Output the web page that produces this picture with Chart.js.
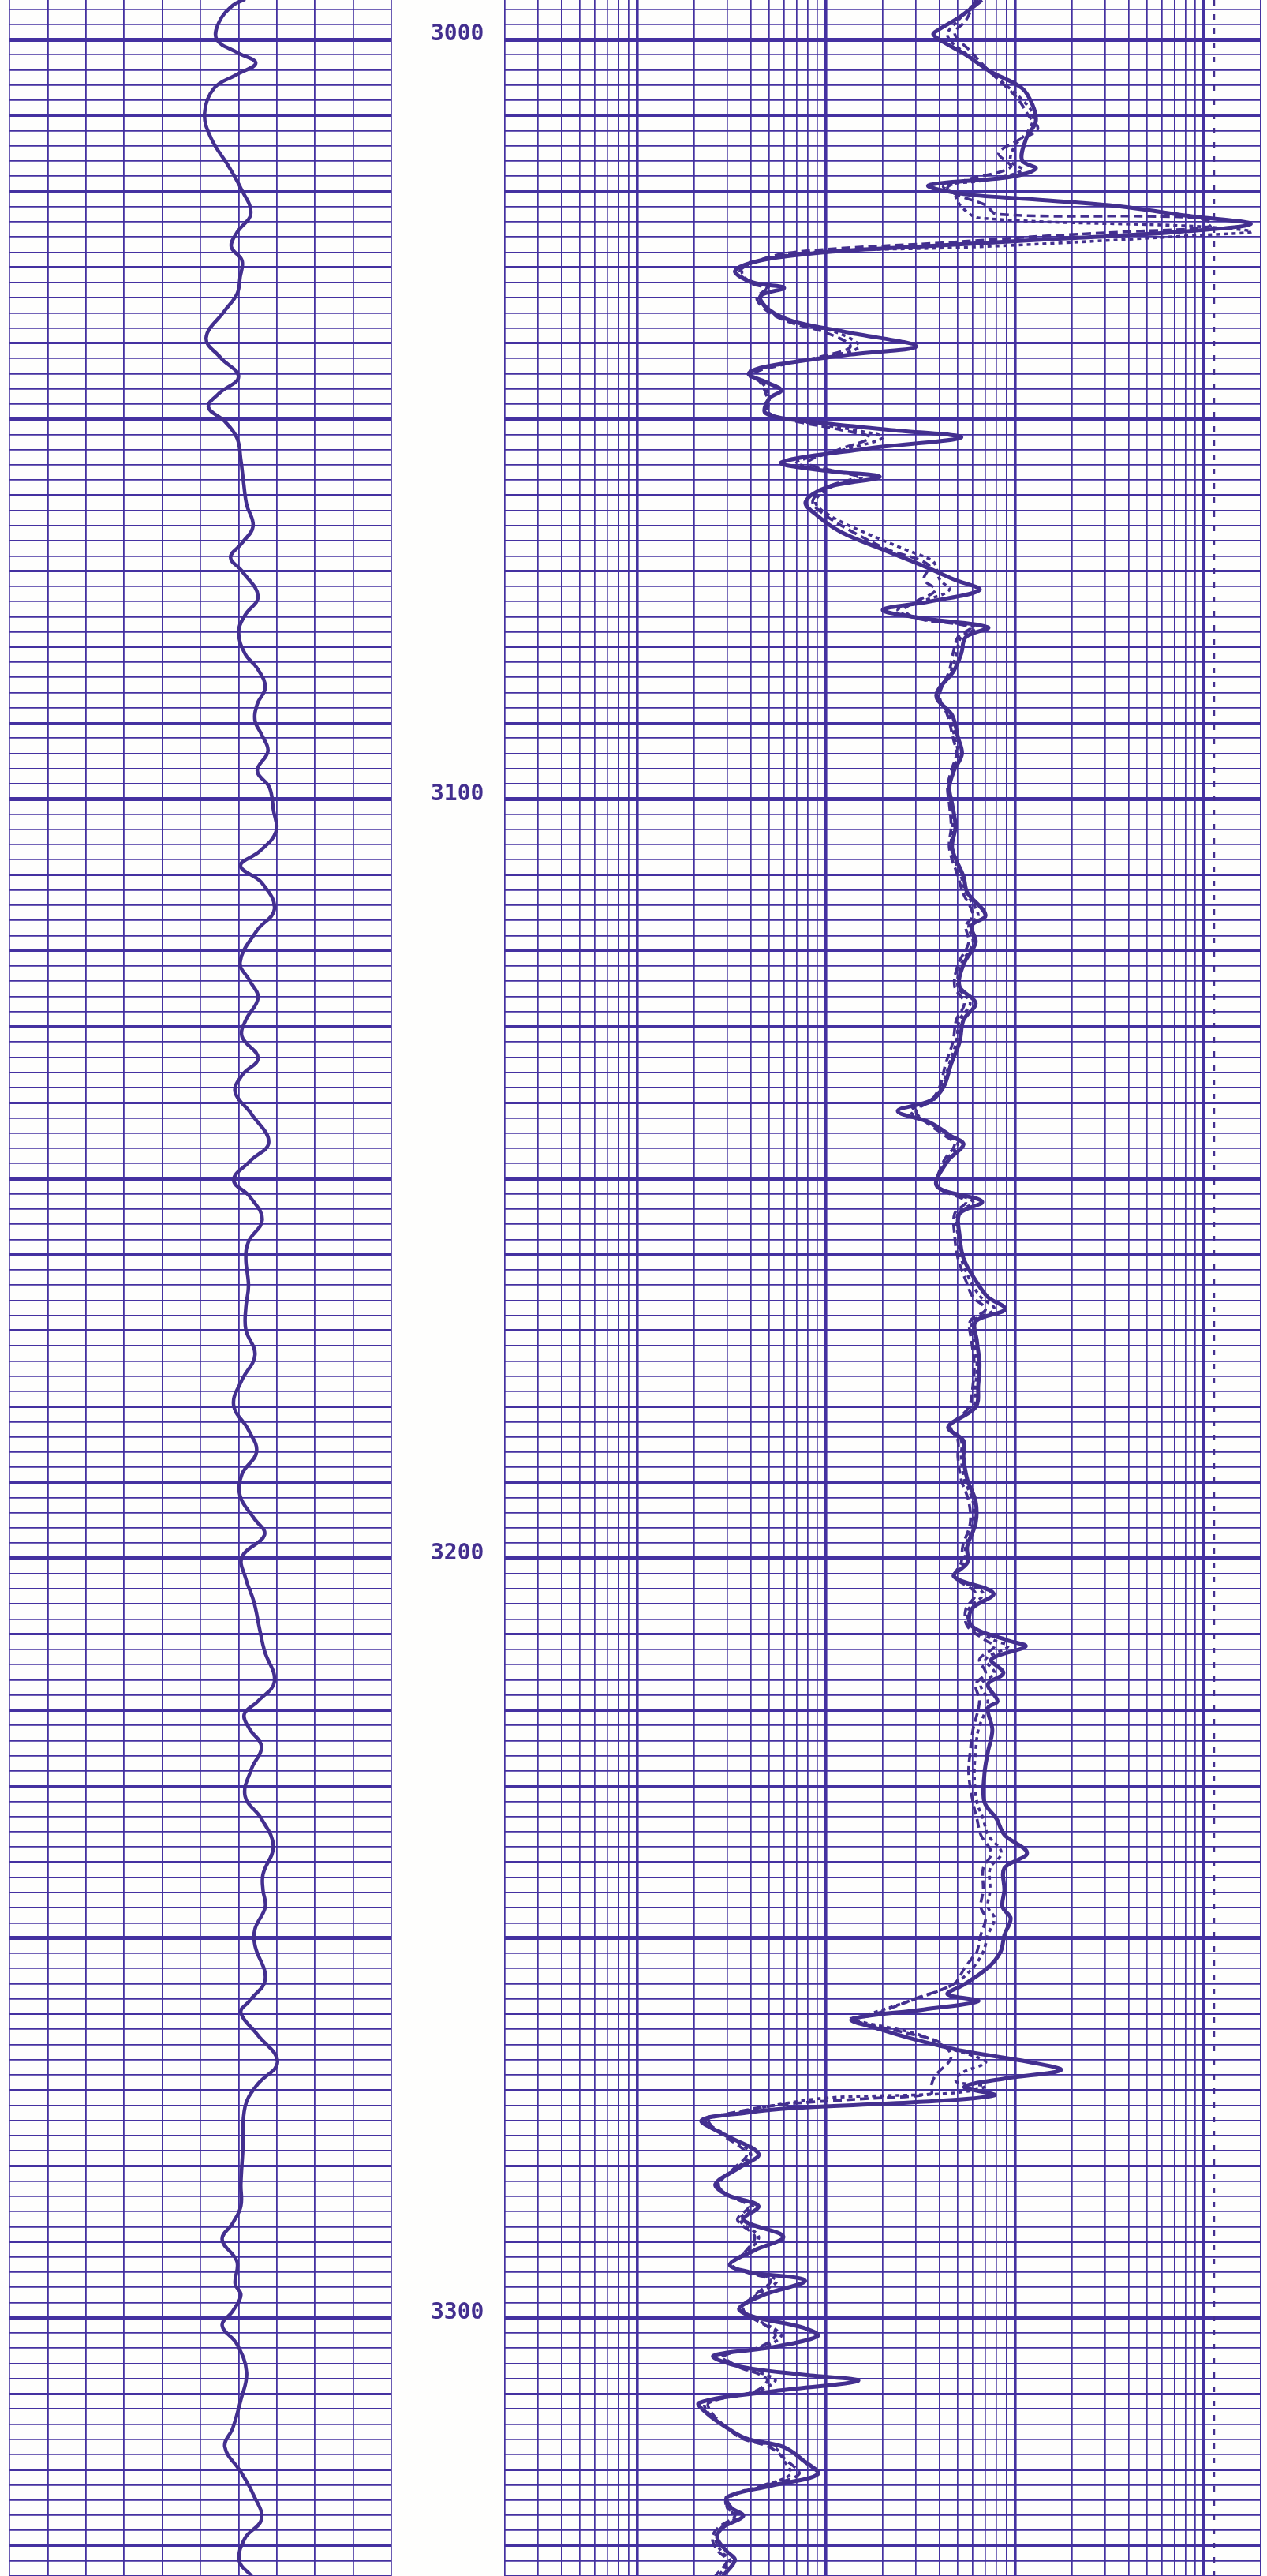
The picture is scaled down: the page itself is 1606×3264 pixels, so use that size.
<!DOCTYPE html>
<html>
<head>
<meta charset="utf-8">
<title>Log 3000-3334</title>
<script src="https://cdn.jsdelivr.net/npm/chart.js@4.4.1/dist/chart.umd.min.js"></script>
<style>
  html, body { margin: 0; padding: 0; background: #ffffff; }
  #page { position: relative; width: 1606px; height: 3264px; overflow: hidden; background: #fefefd; }
  #page canvas { position: absolute; top: 0; }
  #leftTrack { left: 6px; }
  #rightTrack { left: 634px; }
</style>
</head>
<body>
<div id="page">
  <canvas id="leftTrack" width="648" height="3264"></canvas>
  <canvas id="rightTrack" width="972" height="3264"></canvas>
</div>
<script>
// depth window shown on the sheet (ft)
const depthTop = 2994.8;
const depthBottom = 3334.0;
const depthLabels = [3000, 3100, 3200, 3300];

// grid lines
const depthLines = [];
for (let d = 2996; d <= 3334; d += 2) depthLines.push(d);
const leftDivisions = [0, 1, 2, 3, 4, 5, 6, 7, 8, 9, 10];
const logLines = [0.2, 0.3, 0.4, 0.5, 0.6, 0.7, 0.8, 0.9,
  1, 2, 3, 4, 5, 6, 7, 8, 9,
  10, 20, 30, 40, 50, 60, 70, 80, 90,
  100, 200, 300, 400, 500, 600, 700, 800, 900,
  1000, 2000];
const decades = [1, 10, 100, 1000];

// track 1 curve (linear, 0-10 divisions)
const leftDepths = [2994.7, 2995.5, 2997.7, 3000.0, 3001.7, 3003.1, 3004.6, 3006.4, 3009.7, 3013.0,
  3016.7, 3019.6, 3022.9, 3025.4, 3027.3, 3029.1, 3031.3, 3033.5, 3035.7, 3039.3,
  3041.9, 3044.4, 3046.6, 3048.4, 3050.3, 3052.5, 3055.4, 3058.3, 3061.2, 3064.1,
  3066.3, 3068.2, 3070.0, 3073.3, 3075.8, 3078.0, 3080.9, 3082.8, 3085.3, 3087.5,
  3089.7, 3091.5, 3093.7, 3096.3, 3098.5, 3101.4, 3104.3, 3106.9, 3108.8, 3111.0,
  3114.5, 3117.4, 3121.5, 3124.0, 3126.2, 3129.1, 3131.3, 3134.1, 3136.4, 3138.6,
  3141.5, 3145.2, 3147.7, 3150.2, 3152.4, 3155.4, 3158.3, 3160.5, 3164.1, 3167.0,
  3169.9, 3173.2, 3176.5, 3179.8, 3183.1, 3186.0, 3188.9, 3191.8, 3194.7, 3196.9,
  3199.8, 3202.7, 3205.7, 3209.3, 3212.2, 3216.2, 3218.8, 3220.5, 3222.4, 3224.8,
  3227.7, 3231.3, 3234.3, 3237.9, 3241.6, 3243.7, 3245.9, 3248.8, 3251.0, 3255.4,
  3258.3, 3259.8, 3262.7, 3266.3, 3269.3, 3272.2, 3278.0, 3282.4, 3285.3, 3287.5,
  3289.7, 3292.6, 3295.5, 3297.0, 3299.1, 3301.0, 3303.5, 3307.2, 3310.8, 3314.5,
  3317.0, 3320.3, 3323.2, 3326.5, 3329.0, 3332.0, 3334.0];
const leftValues = [6.17, 5.85, 5.49, 5.43, 5.96, 6.45, 5.96, 5.36, 5.11, 5.28,
  5.74, 6.06, 6.32, 5.96, 5.81, 6.09, 6.04, 5.96, 5.64, 5.15,
  5.53, 6.00, 5.49, 5.21, 5.64, 5.96, 6.06, 6.13, 6.21, 6.38,
  6.09, 5.79, 6.09, 6.51, 6.17, 6.00, 6.17, 6.49, 6.70, 6.49,
  6.43, 6.60, 6.77, 6.49, 6.81, 6.91, 6.98, 6.55, 6.05, 6.60,
  6.94, 6.47, 6.04, 6.30, 6.51, 6.19, 6.09, 6.51, 6.09, 5.91,
  6.34, 6.79, 6.30, 5.87, 6.30, 6.62, 6.26, 6.19, 6.26, 6.19,
  6.19, 6.43, 6.09, 5.87, 6.26, 6.47, 6.09, 6.04, 6.40, 6.68,
  6.09, 6.19, 6.40, 6.55, 6.68, 6.94, 6.51, 6.15, 6.28, 6.60,
  6.34, 6.17, 6.60, 6.91, 6.64, 6.64, 6.70, 6.43, 6.43, 6.70,
  6.28, 6.06, 6.49, 7.02, 6.49, 6.17, 6.11, 6.06, 6.06, 5.85,
  5.57, 5.96, 5.91, 6.06, 5.85, 5.57, 5.96, 6.21, 6.06, 5.85,
  5.64, 6.06, 6.38, 6.60, 6.17, 6.02, 6.34];

// track 2, solid curve (log 0.2-2000)
const deepDepths = [2994.8, 2996.9, 2998.8, 2999.3, 3000.2, 3002.0, 3004.2, 3006.4, 3008.6, 3010.8,
  3013.0, 3015.9, 3017.0, 3018.1, 3019.2, 3020.3, 3021.0, 3021.9, 3023.2, 3024.3,
  3025.4, 3026.3, 3027.2, 3028.0, 3029.1, 3030.5, 3032.0, 3032.7, 3033.8, 3035.6,
  3037.1, 3038.6, 3040.4, 3041.5, 3043.0, 3044.0, 3045.1, 3046.2, 3047.3, 3049.2,
  3050.3, 3051.4, 3052.4, 3053.9, 3055.7, 3056.8, 3057.6, 3059.0, 3060.9, 3062.7,
  3064.9, 3067.1, 3069.2, 3071.1, 3072.5, 3074.0, 3075.1, 3076.2, 3077.4, 3078.7,
  3080.9, 3083.1, 3086.4, 3089.0, 3091.9, 3094.1, 3096.3, 3098.5, 3100.7, 3103.6,
  3106.5, 3110.2, 3112.3, 3115.3, 3116.7, 3118.9, 3121.8, 3124.7, 3126.9, 3129.1,
  3132.0, 3134.9, 3137.9, 3139.7, 3141.1, 3142.6, 3144.4, 3145.5, 3147.7, 3151.0,
  3153.0, 3154.6, 3157.5, 3160.5, 3163.4, 3165.6, 3167.2, 3168.8, 3171.4, 3174.3,
  3177.2, 3180.1, 3182.7, 3184.5, 3186.7, 3189.6, 3192.5, 3195.4, 3198.4, 3200.6,
  3202.4, 3204.6, 3206.7, 3208.9, 3210.8, 3211.6, 3213.3, 3215.1, 3216.6, 3218.8,
  3219.7, 3222.6, 3225.5, 3228.4, 3232.1, 3234.3, 3236.4, 3238.8, 3240.8, 3243.7,
  3245.9, 3247.4, 3249.6, 3251.8, 3253.9, 3256.1, 3257.4, 3258.3, 3259.4, 3260.7,
  3262.0, 3263.4, 3264.9, 3266.3, 3267.4, 3268.5, 3269.6, 3270.7, 3271.6, 3272.4,
  3273.0, 3274.0, 3275.8, 3278.4, 3280.2, 3282.4, 3283.8, 3285.3, 3287.1, 3289.3,
  3291.1, 3293.0, 3294.0, 3295.1, 3297.0, 3298.8, 3299.9, 3301.3, 3302.4, 3303.9,
  3305.0, 3306.4, 3307.5, 3308.3, 3309.7, 3311.2, 3312.6, 3314.5, 3315.9, 3317.0,
  3318.8, 3320.6, 3322.1, 3323.6, 3325.0, 3326.1, 3327.6, 3329.0, 3330.8, 3331.9,
  3334.0];
const deepValues = [67, 52, 39, 37, 41, 55, 74, 109, 124, 129,
  115, 109, 129, 94, 35, 52, 115, 336, 811, 1770,
  667, 154, 35, 10, 4.5, 3.3, 4.1, 6.0, 4.5, 5.0,
  6.7, 13.3, 30, 13.3, 5.0, 3.9, 4.8, 5.8, 5.0, 4.8,
  8.2, 21.8, 52, 16.2, 5.8, 10, 19.3, 10, 7.8, 9.0,
  12.1, 19.7, 32, 47.6, 65, 35.5, 20, 32, 72, 55,
  52, 47.6, 38.4, 46.6, 50, 52.5, 47.6, 45, 46.6, 48.5,
  46.6, 53.5, 56, 70, 59, 62, 53.5, 51, 62, 53.5,
  51, 46, 42, 36, 24, 35.5, 46, 53.5, 44, 38.7,
  67, 51, 51, 53.5, 62, 72, 89, 62, 63, 65,
  64, 62, 44.4, 53.5, 53.5, 56, 62, 62, 56, 56,
  47.6, 77, 59, 59, 91.5, 114, 75, 87, 72, 81,
  72, 76, 72, 69, 69, 80, 88, 116, 88, 88,
  86, 95, 88, 84, 72, 54, 44, 64, 33, 13.7,
  19.3, 30, 54, 118, 175, 88, 54, 78, 30, 6.5,
  3.8, 2.2, 2.85, 4.4, 3.5, 2.6, 3.0, 4.4, 3.65, 5.95,
  4.2, 3.1, 4.0, 7.75, 4.66, 3.47, 4.2, 7.6, 9.06, 5.14,
  2.54, 3.47, 7.6, 14.8, 5.14, 2.13, 2.35, 3.0, 3.8, 5.95,
  7.6, 9.06, 5.14, 3.0, 3.15, 3.65, 2.85, 2.66, 3.0, 3.3,
  2.85];

// track 2, long-dash curve
const mediumDepths = [2994.8, 2997.5, 2999.2, 3001.5, 3004.0, 3006.0, 3008.0, 3010.0, 3011.8, 3013.5,
  3015.0, 3016.8, 3018.5, 3019.5, 3020.5, 3021.8, 3023.0, 3023.3, 3023.6, 3024.3,
  3024.8, 3025.3, 3025.9, 3026.8, 3027.5, 3028.2, 3029.2, 3030.5, 3032.0, 3032.8,
  3034.0, 3035.6, 3037.1, 3038.6, 3040.4, 3041.6, 3043.0, 3044.0, 3045.5, 3047.3,
  3049.2, 3050.3, 3051.4, 3052.4, 3053.9, 3055.7, 3056.8, 3057.6, 3059.0, 3060.9,
  3062.7, 3064.9, 3067.1, 3069.2, 3071.1, 3072.5, 3074.0, 3075.1, 3076.2, 3077.4,
  3078.7, 3080.9, 3083.1, 3086.4, 3089.0, 3091.9, 3094.1, 3096.3, 3098.5, 3100.7,
  3103.6, 3106.5, 3110.2, 3112.3, 3115.3, 3116.7, 3118.9, 3121.8, 3124.7, 3126.9,
  3129.1, 3132.0, 3134.9, 3137.9, 3139.7, 3141.1, 3142.6, 3144.4, 3145.5, 3147.7,
  3151.0, 3153.0, 3154.6, 3157.5, 3160.5, 3163.4, 3165.6, 3167.2, 3168.8, 3171.4,
  3174.3, 3177.2, 3180.1, 3182.7, 3184.5, 3186.7, 3189.6, 3192.5, 3195.4, 3198.4,
  3200.6, 3202.4, 3204.6, 3206.7, 3208.9, 3210.8, 3211.6, 3213.3, 3215.1, 3216.6,
  3218.8, 3222.6, 3225.5, 3228.4, 3232.1, 3234.3, 3236.4, 3238.8, 3240.8, 3243.7,
  3245.9, 3247.4, 3249.6, 3251.8, 3252.5, 3254.0, 3256.0, 3258.0, 3260.2, 3260.7,
  3262.6, 3263.8, 3265.7, 3268.1, 3269.5, 3270.5, 3271.2, 3271.9, 3273.0, 3274.0,
  3275.8, 3278.4, 3280.2, 3282.4, 3283.8, 3285.3, 3287.1, 3289.3, 3291.1, 3293.0,
  3294.0, 3295.1, 3297.0, 3298.8, 3299.9, 3301.3, 3302.4, 3303.9, 3305.0, 3306.4,
  3307.5, 3308.3, 3309.7, 3311.2, 3312.6, 3314.5, 3315.9, 3317.0, 3318.8, 3320.6,
  3322.1, 3323.6, 3325.0, 3326.1, 3327.6, 3329.0, 3330.8, 3331.9, 3334.0];
const mediumValues = [62, 55, 48, 58, 72, 88, 105, 118, 132, 100,
  82, 95, 55, 44, 50, 70, 80, 600, 980, 1100,
  1000, 400, 140, 40, 12, 6, 4.3, 3.5, 3.9, 4.8,
  4.3, 4.8, 6.2, 10, 13.5, 10, 5.5, 4.2, 4.6, 4.9,
  5.0, 7, 12, 17, 12, 8, 11, 14.5, 10, 8.5,
  10, 14, 21, 35, 33, 38, 30, 26, 30, 58,
  50, 47, 45, 40, 44, 47, 49, 46, 44, 45,
  46, 45, 50, 53, 60, 55, 57, 50, 48, 54,
  49, 47, 43, 40, 36, 30, 34, 43, 48, 42,
  39, 55, 48, 48, 50, 55, 60, 70, 58, 59,
  61, 60, 57, 46, 50, 50, 52, 57, 58, 53,
  52, 48, 62, 55, 56, 70, 78, 65, 70, 62,
  65, 60, 58, 57, 60, 63, 66, 75, 68, 68,
  66, 70, 66, 63, 60, 54, 47.7, 29.5, 17.2, 13.5,
  27.7, 40.5, 46, 38, 36, 36, 15, 6, 3.2, 2.4,
  2.8, 3.8, 3.3, 2.7, 3.0, 3.9, 3.4, 4.2, 3.8, 3.2,
  3.8, 5.1, 4.2, 3.65, 4.0, 5.0, 5.4, 4.4, 2.9, 3.4,
  4.5, 4.9, 4.2, 2.4, 2.5, 3.0, 3.6, 5.0, 6.2, 7.2,
  4.8, 3.1, 3.0, 3.3, 2.7, 2.5, 2.7, 3.0, 2.6];

// track 2, short-dash curve
const shallowDepths = [2994.8, 2997.5, 2999.5, 3002.0, 3005.0, 3008.0, 3010.0, 3012.0, 3014.0, 3016.0,
  3017.2, 3018.5, 3019.3, 3020.5, 3022.0, 3023.5, 3024.6, 3025.3, 3025.8, 3026.8,
  3027.4, 3027.9, 3029.0, 3030.5, 3032.0, 3032.8, 3034.0, 3035.6, 3037.1, 3038.6,
  3040.4, 3041.6, 3043.0, 3044.0, 3045.5, 3047.3, 3049.2, 3050.3, 3051.4, 3052.4,
  3053.9, 3055.7, 3056.8, 3057.6, 3059.0, 3060.9, 3062.7, 3064.9, 3067.1, 3068.5,
  3069.2, 3071.1, 3072.5, 3074.0, 3075.1, 3076.2, 3077.4, 3078.7, 3080.9, 3083.1,
  3086.4, 3089.0, 3091.9, 3094.1, 3096.3, 3098.5, 3100.7, 3103.6, 3106.5, 3110.2,
  3112.3, 3115.3, 3116.7, 3118.9, 3121.8, 3124.7, 3126.9, 3129.1, 3132.0, 3134.9,
  3137.9, 3139.7, 3141.1, 3142.6, 3144.4, 3145.5, 3147.7, 3151.0, 3153.0, 3154.6,
  3157.5, 3160.5, 3163.4, 3165.6, 3167.2, 3168.8, 3171.4, 3174.3, 3177.2, 3180.1,
  3182.7, 3184.5, 3186.7, 3189.6, 3192.5, 3195.4, 3198.4, 3200.6, 3202.4, 3204.6,
  3206.7, 3208.9, 3210.8, 3211.6, 3213.3, 3215.1, 3216.6, 3218.8, 3222.6, 3225.5,
  3228.4, 3232.1, 3234.3, 3236.4, 3238.8, 3240.8, 3243.7, 3245.9, 3247.4, 3249.6,
  3251.8, 3253.9, 3256.0, 3258.0, 3260.2, 3260.7, 3262.6, 3264.5, 3265.7, 3266.4,
  3267.8, 3268.9, 3269.5, 3270.4, 3271.0, 3271.8, 3273.0, 3274.0, 3275.8, 3278.4,
  3280.2, 3282.4, 3283.8, 3285.3, 3287.1, 3289.3, 3291.1, 3293.0, 3294.0, 3295.1,
  3297.0, 3298.8, 3299.9, 3301.3, 3302.4, 3303.9, 3305.0, 3306.4, 3307.5, 3308.3,
  3309.7, 3311.2, 3312.6, 3314.5, 3315.9, 3317.0, 3318.8, 3320.6, 3322.1, 3323.6,
  3325.0, 3326.1, 3327.6, 3329.0, 3330.8, 3331.9, 3334.0];
const shallowValues = [64, 50, 44, 56, 80, 110, 125, 118, 100, 95,
  110, 70, 42, 48, 52, 65, 900, 1790, 900, 170,
  50, 10, 4.6, 3.6, 4.0, 5.0, 4.5, 4.9, 6.5, 11.5,
  15, 11, 5.2, 4.0, 4.7, 5.0, 5.0, 7.5, 14, 20,
  13, 7, 11, 15.5, 10.5, 8.8, 10.5, 16, 26, 36,
  38, 40, 45, 32, 24, 30, 62, 52, 49, 46,
  39, 45, 48, 50, 47, 45, 46, 47, 46, 52,
  55, 64, 57, 60, 52, 50, 58, 51, 49, 45,
  41, 37, 28, 35, 45, 50, 43, 39, 60, 50,
  50, 52, 58, 66, 78, 60, 61, 63, 62, 60,
  45, 52, 52, 54, 60, 60, 55, 54, 48, 68,
  57, 58, 78, 92, 70, 78, 66, 72, 64, 62,
  61, 63, 68, 72, 85, 74, 74, 72, 78, 72,
  68, 60, 48, 30, 16, 13.8, 30, 45, 63.5, 70,
  52, 49, 70, 47.7, 10.7, 6, 3.4, 2.3, 2.9, 4.0,
  3.4, 2.7, 3.0, 4.1, 3.5, 4.4, 3.9, 3.1, 3.9, 5.5,
  4.3, 3.5, 4.0, 5.2, 5.8, 4.6, 2.8, 3.4, 4.8, 5.4,
  4.3, 2.3, 2.4, 3.0, 3.7, 5.3, 6.0, 6.5, 4.6, 3.0,
  3.0, 3.4, 2.8, 2.6, 2.8, 3.1, 2.7];

// pegged trace near the right edge
const peggedDepths = [2994.8, 3334.0];
const peggedValues = [1130, 1130];

const ink = '#432f8f';
const gridInk = '#4431a0';

function points(depths, values) {
  return depths.map((d, i) => ({ x: values[i], y: d }));
}

function depthLineWidth(ctx) {
  const v = ctx.tick.value;
  if (v % 50 === 0) return 5;
  if (v % 10 === 0) return 3;
  return 1.7;
}

// keep the plot area glued to the canvas edges
function flatHeight(ax) { ax.height = 0; ax.paddingLeft = 0; ax.paddingRight = 0; }
function fixWidth(w) {
  return ax => { ax.width = w; ax.paddingTop = 0; ax.paddingBottom = 0; };
}

const noPlugins = { legend: { display: false }, tooltip: { enabled: false } };

// track 1 with depth column on its right
new Chart(document.getElementById('leftTrack'), {
  type: 'line',
  data: {
    datasets: [{
      data: points(leftDepths, leftValues),
      borderColor: ink,
      borderWidth: 4.5,
      pointRadius: 0,
      tension: 0.4
    }]
  },
  options: {
    responsive: false,
    animation: false,
    events: [],
    indexAxis: 'y',
    layout: { padding: { left: 6, right: 0, top: 0, bottom: 0 } },
    plugins: noPlugins,
    scales: {
      x: {
        type: 'linear', min: 0, max: 10, position: 'top',
        afterBuildTicks: ax => { ax.ticks = leftDivisions.map(v => ({ value: v })); },
        afterFit: flatHeight,
        ticks: { display: false },
        border: { display: false },
        grid: { color: gridInk, lineWidth: 1.8, drawTicks: false }
      },
      y: {
        type: 'linear', min: depthTop, max: depthBottom, reverse: true, position: 'right',
        afterBuildTicks: ax => { ax.ticks = depthLines.map(v => ({ value: v })); },
        afterFit: fixWidth(158),
        ticks: {
          autoSkip: false,
          padding: 50,
          crossAlign: 'center',
          labelOffset: -6,
          color: ink,
          font: { family: 'DejaVu Sans Mono', size: 28, weight: 'bold' },
          callback: v => depthLabels.includes(v) ? String(v) : ''
        },
        border: { display: false },
        grid: { color: gridInk, lineWidth: depthLineWidth, drawTicks: false }
      }
    }
  }
});

// track 2, logarithmic
new Chart(document.getElementById('rightTrack'), {
  type: 'line',
  data: {
    datasets: [
      { data: points(deepDepths, deepValues), borderColor: ink, borderWidth: 5, pointRadius: 0, tension: 0.35 },
      { data: points(mediumDepths, mediumValues), borderColor: ink, borderWidth: 3.6, borderDash: [11, 6], pointRadius: 0, tension: 0.35 },
      { data: points(shallowDepths, shallowValues), borderColor: ink, borderWidth: 3.6, borderDash: [5, 5], pointRadius: 0, tension: 0.35 },
      { data: points(peggedDepths, peggedValues), borderColor: ink, borderWidth: 3.2, borderDash: [7, 11], pointRadius: 0, tension: 0 }
    ]
  },
  options: {
    responsive: false,
    animation: false,
    events: [],
    indexAxis: 'y',
    layout: { padding: { left: 6, right: 8, top: 0, bottom: 0 } },
    plugins: noPlugins,
    scales: {
      x: {
        type: 'logarithmic', min: 0.2, max: 2000, position: 'top',
        afterBuildTicks: ax => { ax.ticks = logLines.map(v => ({ value: v })); },
        afterFit: flatHeight,
        ticks: { display: false },
        border: { display: false },
        grid: {
          color: gridInk,
          drawTicks: false,
          lineWidth: ctx => decades.includes(ctx.tick.value) ? 3.6 : 1.7
        }
      },
      y: {
        type: 'linear', min: depthTop, max: depthBottom, reverse: true, position: 'left',
        afterBuildTicks: ax => { ax.ticks = depthLines.map(v => ({ value: v })); },
        afterFit: fixWidth(0),
        ticks: { display: false },
        border: { display: false },
        grid: { color: gridInk, lineWidth: depthLineWidth, drawTicks: false }
      }
    }
  }
});
</script>
</body>
</html>
